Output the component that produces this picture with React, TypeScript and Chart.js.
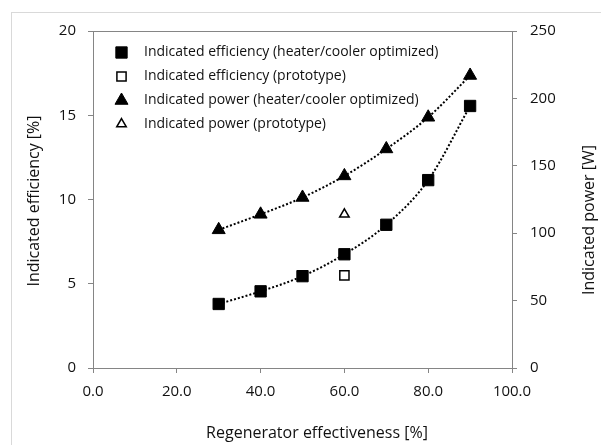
import React, { useEffect, useRef } from 'react';
import { Chart, registerables } from 'chart.js';

Chart.register(...registerables);

// ---- data ----
const effectiveness = [30, 40, 50, 60, 70, 80, 90];
const efficiencyOptimized = [3.8, 4.55, 5.45, 6.75, 8.5, 11.15, 15.55];
const prototypeEffectiveness = [60];
const efficiencyPrototype = [5.5];
const powerOptimized = [102.5, 114, 126.5, 142.5, 162.5, 186, 217];
const powerPrototype = [114];
const seriesLabels = [
  'Indicated efficiency (heater/cooler optimized)',
  'Indicated efficiency (prototype)',
  'Indicated power (heater/cooler optimized)',
  'Indicated power (prototype)',
];
const xTitle = 'Regenerator effectiveness [%]';
const yTitle = 'Indicated efficiency [%]';
const y2Title = 'Indicated power [W]';

const FONT = '"Open Sans", Lato, sans-serif';
const TEXT = '#111111';
const AXIS = '#858585';

type Marker = { style: string; r: number; fill: string; stroke: string; lw: number };

function drawMarker(ctx: CanvasRenderingContext2D, m: Marker, x: number, y: number) {
  ctx.save();
  ctx.beginPath();
  if (m.style === 'rect') {
    const s = Math.SQRT1_2 * m.r;
    ctx.rect(x - s, y - s, 2 * s, 2 * s);
  } else {
    let rad = 0;
    ctx.moveTo(x + Math.sin(rad) * m.r, y - Math.cos(rad) * m.r);
    rad += (2 * Math.PI) / 3;
    ctx.lineTo(x + Math.sin(rad) * m.r, y - Math.cos(rad) * m.r);
    rad += (2 * Math.PI) / 3;
    ctx.lineTo(x + Math.sin(rad) * m.r, y - Math.cos(rad) * m.r);
    ctx.closePath();
  }
  ctx.fillStyle = m.fill;
  ctx.fill();
  ctx.strokeStyle = m.stroke;
  ctx.lineWidth = m.lw;
  ctx.stroke();
  ctx.restore();
}

const markers: Marker[] = [
  { style: 'rect', r: 8, fill: '#000', stroke: '#000', lw: 1 },
  { style: 'rect', r: 6.5, fill: '#fff', stroke: '#000', lw: 1.5 },
  { style: 'triangle', r: 7.5, fill: '#000', stroke: '#000', lw: 1 },
  { style: 'triangle', r: 5.5, fill: '#fff', stroke: '#000', lw: 1.5 },
];

const decorPlugin = {
  id: 'decor',
  beforeDraw(chart: any) {
    const { ctx, width, height } = chart;
    ctx.save();
    ctx.fillStyle = '#ffffff';
    ctx.fillRect(0, 0, width, height);
    ctx.strokeStyle = '#d9d9d9';
    ctx.lineWidth = 1;
    ctx.strokeRect(11.5, 12.5, width + 50, height + 50);
    ctx.restore();
  },
  afterDraw(chart: any) {
    const { ctx, chartArea } = chart;
    ctx.save();
    // top border of plot area
    ctx.strokeStyle = AXIS;
    ctx.lineWidth = 1;
    const ty = Math.round(chartArea.top) + 0.5;
    ctx.beginPath();
    ctx.moveTo(chartArea.left, ty);
    ctx.lineTo(chartArea.right, ty);
    ctx.stroke();

    // axis titles
    ctx.fillStyle = TEXT;
    ctx.font = `16px ${FONT}`;
    ctx.textAlign = 'center';
    ctx.textBaseline = 'middle';
    ctx.fillText(xTitle, 317, 433);
    ctx.save();
    ctx.translate(34, 201);
    ctx.rotate(-Math.PI / 2);
    ctx.fillText(yTitle, 0, 0);
    ctx.restore();
    ctx.save();
    ctx.translate(589, 220);
    ctx.rotate(-Math.PI / 2);
    ctx.fillText(y2Title, 0, 0);
    ctx.restore();

    // legend
    const rows = [52.5, 76.5, 100.5, 124];
    ctx.font = `14px ${FONT}`;
    ctx.textAlign = 'left';
    seriesLabels.forEach((lab, i) => {
      drawMarker(ctx, markers[i], 121.5, rows[i]);
      ctx.fillStyle = TEXT;
      ctx.fillText(lab, 144, rows[i]);
    });
    ctx.restore();
  },
};

export default function App() {
  const ref = useRef<HTMLCanvasElement | null>(null);

  useEffect(() => {
    if (!ref.current) return;
    const pts = (xs: number[], ys: number[]) => xs.map((x, i) => ({ x, y: ys[i] }));
    const chart = new Chart(ref.current, {
      type: 'scatter',
      data: {
        datasets: [
          {
            label: seriesLabels[0],
            data: pts(effectiveness, efficiencyOptimized),
            yAxisID: 'y',
            showLine: true,
            borderColor: '#000',
            borderWidth: 2,
            borderDash: [2, 2],
            cubicInterpolationMode: 'monotone',
            pointStyle: markers[0].style,
            pointRadius: markers[0].r,
            pointBackgroundColor: markers[0].fill,
            pointBorderColor: markers[0].stroke,
            pointBorderWidth: markers[0].lw,
          },
          {
            label: seriesLabels[1],
            data: pts(prototypeEffectiveness, efficiencyPrototype),
            yAxisID: 'y',
            showLine: false,
            pointStyle: markers[1].style,
            pointRadius: markers[1].r,
            pointBackgroundColor: markers[1].fill,
            pointBorderColor: markers[1].stroke,
            pointBorderWidth: markers[1].lw,
          },
          {
            label: seriesLabels[2],
            data: pts(effectiveness, powerOptimized),
            yAxisID: 'y2',
            showLine: true,
            borderColor: '#000',
            borderWidth: 2,
            borderDash: [2, 2],
            cubicInterpolationMode: 'monotone',
            pointStyle: markers[2].style,
            pointRadius: markers[2].r,
            pointBackgroundColor: markers[2].fill,
            pointBorderColor: markers[2].stroke,
            pointBorderWidth: markers[2].lw,
          },
          {
            label: seriesLabels[3],
            data: pts(prototypeEffectiveness, powerPrototype),
            yAxisID: 'y2',
            showLine: false,
            pointStyle: markers[3].style,
            pointRadius: markers[3].r,
            pointBackgroundColor: markers[3].fill,
            pointBorderColor: markers[3].stroke,
            pointBorderWidth: markers[3].lw,
          },
        ] as any,
      },
      options: {
        responsive: false,
        animation: false,
        devicePixelRatio: 1,
        layout: { padding: { top: 31, left: 0, right: 0, bottom: 0 } },
        plugins: { legend: { display: false }, tooltip: { enabled: false } },
        scales: {
          x: {
            type: 'linear',
            position: 'bottom',
            min: 0,
            max: 100,
            ticks: {
              stepSize: 20,
              padding: 10,
              color: TEXT,
              font: { family: FONT, size: 15 },
              callback: (v: any) => Number(v).toFixed(1),
            },
            grid: { drawOnChartArea: false, drawTicks: true, tickLength: 5, color: AXIS },
            border: { display: true, color: AXIS, width: 1 },
            afterFit: (s: any) => {
              s.height = 77;
            },
          },
          y: {
            type: 'linear',
            position: 'left',
            min: 0,
            max: 20,
            ticks: { stepSize: 5, padding: 12, color: TEXT, font: { family: FONT, size: 15 } },
            grid: { drawOnChartArea: false, drawTicks: true, tickLength: 5, color: AXIS },
            border: { display: true, color: AXIS, width: 1 },
            afterFit: (s: any) => {
              s.width = 93;
            },
          },
          y2: {
            type: 'linear',
            position: 'right',
            min: 0,
            max: 250,
            ticks: { stepSize: 50, padding: 13, color: TEXT, font: { family: FONT, size: 15 } },
            grid: { drawOnChartArea: false, drawTicks: true, tickLength: 5, color: AXIS },
            border: { display: true, color: AXIS, width: 1 },
            afterFit: (s: any) => {
              s.width = 89;
            },
          },
        },
      } as any,
      plugins: [decorPlugin],
    });
    return () => chart.destroy();
  }, []);

  return (
    <div style={{ position: 'fixed', left: 0, top: 0, width: 601, height: 445 }}>
      <canvas ref={ref} width={601} height={445} style={{ width: 601, height: 445, display: 'block' }} />
    </div>
  );
}
